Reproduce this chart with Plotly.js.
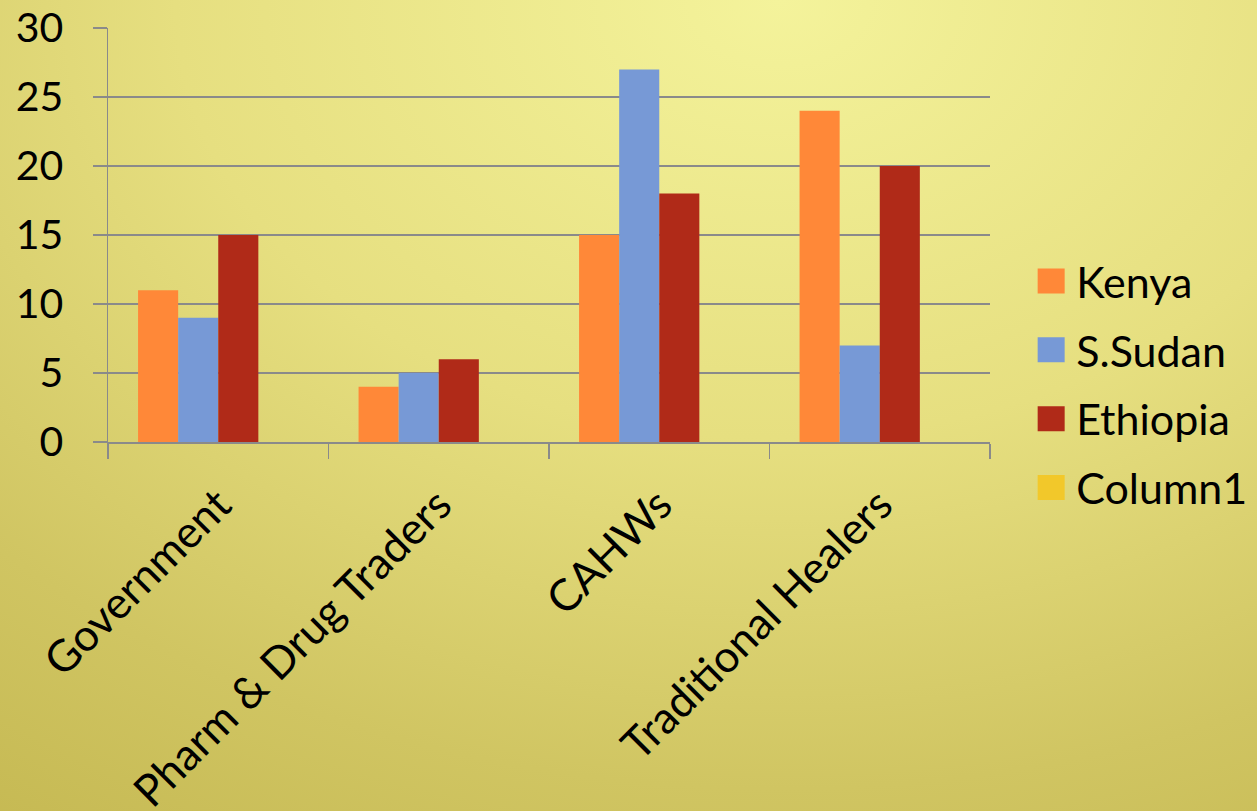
<!DOCTYPE html>
<html>
<head>
<meta charset="utf-8">
<script src="https://cdn.plot.ly/plotly-3.0.1.min.js"></script>
<style>
  html, body { margin: 0; padding: 0; }
  body {
    width: 1257px; height: 811px; overflow: hidden;
    background: radial-gradient(ellipse 120% 135% at 62% 0%, #f4f39b 0%, #e6df80 40%, #d0c562 72%, #c1b44c 100%);
  }
  #chart { width: 1257px; height: 811px; }
</style>
</head>
<body>
<div id="chart"></div>
<script>
// Providers of animal health services, count per country
const categories = ['Government', 'Pharm & Drug Traders', 'CAHWs', 'Traditional Healers'];
const seriesNames = ['Kenya', 'S.Sudan', 'Ethiopia', 'Column1'];
const kenya    = [11, 4, 15, 24];
const sSudan   = [9, 5, 27, 7];
const ethiopia = [15, 6, 18, 20];
const column1  = [null, null, null, null];
const seriesColors = ['#ff8838', '#7799d6', '#b02a18', '#f2c82a'];

const seriesValues = [kenya, sSudan, ethiopia, column1];

const FONT = 'Lato, "Open Sans", sans-serif';

const traces = seriesValues.map((vals, i) => ({
  type: 'bar',
  name: seriesNames[i],
  x: categories,
  y: vals,
  legendgroup: 'g' + i,
  marker: { color: seriesColors[i], line: { width: 0 } },
  hoverinfo: 'x+y+name'
}));

const layout = {
  width: 1257,
  height: 811,
  paper_bgcolor: 'rgba(0,0,0,0)',
  plot_bgcolor: 'rgba(0,0,0,0)',
  margin: { l: 108, r: 267, t: 28, b: 369, autoexpand: false },
  barmode: 'group',
  bargap: 0.2727,
  bargroupgap: 0,
  font: { family: FONT, size: 42, color: '#000' },
  xaxis: {
    type: 'category',
    tickangle: -45,
    automargin: false,
    showline: true,
    linecolor: '#8a8a8a',
    linewidth: 1.5,
    ticks: 'outside',
    tickson: 'boundaries',
    ticklen: 15,
    tickwidth: 1.5,
    tickcolor: '#8a8a8a',
    showgrid: false,
    ticklabelstandoff: 18,
    tickfont: { family: FONT, size: 44, color: '#000' },
    fixedrange: true
  },
  yaxis: {
    range: [0, 30],
    dtick: 5,
    tick0: 0,
    automargin: false,
    showline: true,
    linecolor: '#8a8a8a',
    linewidth: 1.5,
    ticks: 'outside',
    ticklen: 14,
    tickwidth: 1.5,
    tickcolor: '#8a8a8a',
    showgrid: true,
    gridcolor: '#8a8a8a',
    gridwidth: 1.5,
    zeroline: false,
    ticklabelstandoff: 21,
    tickfont: { family: FONT, size: 41, color: '#000' },
    fixedrange: true
  },
  showlegend: true,
  legend: {
    x: 1.041,
    xanchor: 'left',
    y: 0.139,
    yanchor: 'middle',
    bgcolor: 'rgba(0,0,0,0)',
    font: { family: FONT, size: 43, color: '#000' },
    itemwidth: 40,
    tracegroupgap: 10,
    traceorder: 'grouped'
  }
};

Plotly.newPlot('chart', traces, layout, { displayModeBar: false, staticPlot: true }).then(gd => {
  // enlarge the legend swatches to large squares
  gd.querySelectorAll('.legend .legendpoints path').forEach(p => {
    p.setAttribute('d', 'M13.5,12.5H-13.5V-12.5H13.5Z');
  });
});
</script>
</body>
</html>
